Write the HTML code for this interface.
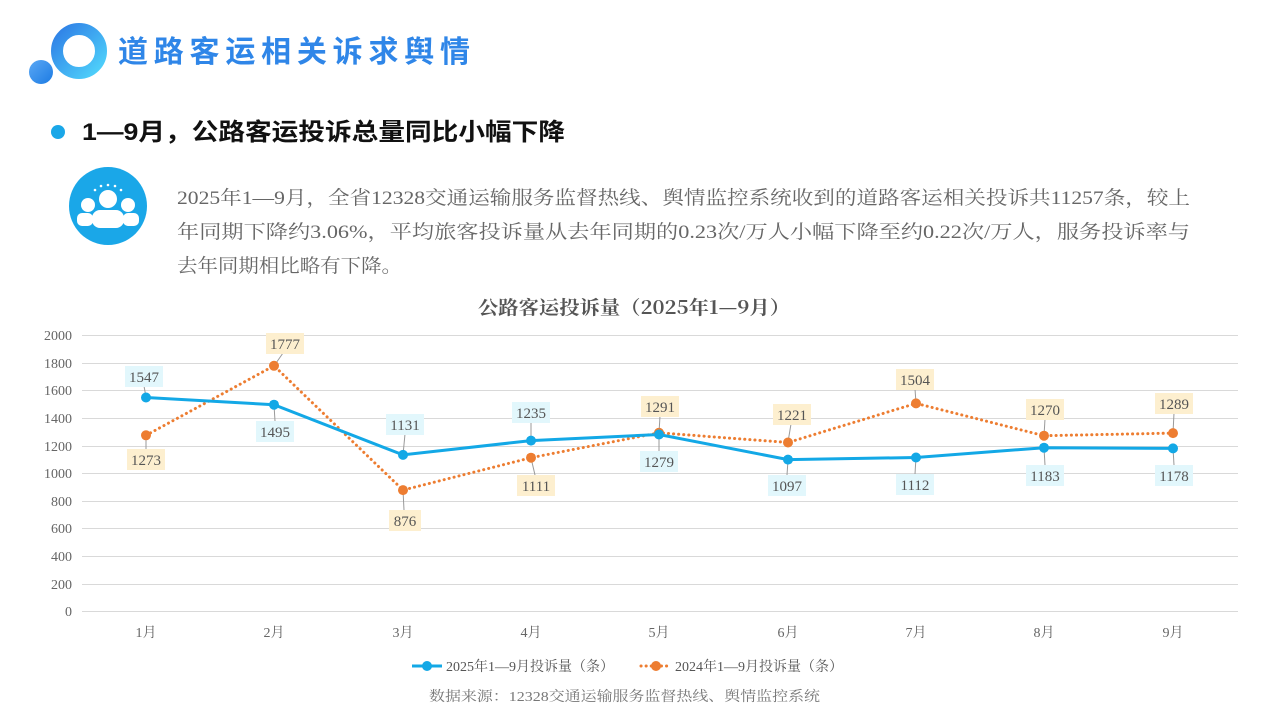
<!DOCTYPE html>
<html><head><meta charset="utf-8"><style>
body{margin:0;width:1280px;height:720px;background:#fff;overflow:hidden;position:relative;font-family:"Liberation Sans","Noto Sans CJK SC",sans-serif}
</style></head><body>
<svg width="1280" height="720" style="position:absolute;left:0;top:0">
<defs>
<linearGradient id="g1" x1="0" y1="0" x2="1" y2="1"><stop offset="0" stop-color="#2f7fe6"/><stop offset="1" stop-color="#4fd3fb"/></linearGradient>
<linearGradient id="g2" x1="0" y1="0" x2="1" y2="1"><stop offset="0" stop-color="#5aa8f5"/><stop offset="1" stop-color="#1c7be3"/></linearGradient>
</defs>
<circle cx="79" cy="51" r="22" fill="none" stroke="url(#g1)" stroke-width="12"/>
<circle cx="41" cy="72" r="12" fill="url(#g2)"/>
<text x="118" y="62" font-size="30" font-weight="bold" fill="#2f86e8" font-family="Noto Sans CJK SC,sans-serif" textLength="352" lengthAdjust="spacing">道路客运相关诉求舆情</text>
<circle cx="58" cy="132" r="7" fill="#1aa7e8"/>
<text x="82" y="140" font-size="24" font-weight="bold" fill="#111" font-family="Liberation Sans,Noto Sans CJK SC,sans-serif" textLength="483" lengthAdjust="spacingAndGlyphs">1—9月，公路客运投诉总量同比小幅下降</text>
<circle cx="108" cy="206" r="39" fill="#1aa7e8"/>
<g fill="#fff">
<circle cx="108" cy="199" r="9"/><rect x="92" y="210" width="32" height="18" rx="8"/>
<circle cx="88" cy="205" r="7"/><rect x="77" y="213" width="16" height="13" rx="5"/>
<circle cx="128" cy="205" r="7"/><rect x="123" y="213" width="16" height="13" rx="5"/>
<circle cx="95" cy="190" r="1.3"/><circle cx="101" cy="186" r="1.3"/><circle cx="108" cy="185" r="1.3"/><circle cx="115" cy="186" r="1.3"/><circle cx="121" cy="190" r="1.3"/>
</g>
<g font-family="Liberation Serif,Noto Serif CJK SC,serif" font-size="19" fill="#666">
<text x="177" y="204" textLength="1013" lengthAdjust="spacingAndGlyphs">2025年1—9月，全省12328交通运输服务监督热线、舆情监控系统收到的道路客运相关投诉共11257条，较上</text>
<text x="177" y="238" textLength="1013" lengthAdjust="spacingAndGlyphs">年同期下降约3.06%，平均旅客投诉量从去年同期的0.23次/万人小幅下降至约0.22次/万人，服务投诉率与</text>
<text x="177" y="272" textLength="225" lengthAdjust="spacingAndGlyphs">去年同期相比略有下降。</text>
</g>
<text x="478" y="314" font-size="19" font-weight="bold" fill="#555" font-family="Noto Serif CJK SC,serif" textLength="312" lengthAdjust="spacingAndGlyphs">公路客运投诉量（2025年1—9月）</text>
<g stroke="#d9d9d9" stroke-width="1">
<line x1="82" x2="1238" y1="335.5" y2="335.5"/><line x1="82" x2="1238" y1="363.5" y2="363.5"/><line x1="82" x2="1238" y1="390.5" y2="390.5"/><line x1="82" x2="1238" y1="418.5" y2="418.5"/><line x1="82" x2="1238" y1="446.5" y2="446.5"/><line x1="82" x2="1238" y1="473.5" y2="473.5"/><line x1="82" x2="1238" y1="501.5" y2="501.5"/><line x1="82" x2="1238" y1="528.5" y2="528.5"/><line x1="82" x2="1238" y1="556.5" y2="556.5"/><line x1="82" x2="1238" y1="584.5" y2="584.5"/><line x1="82" x2="1238" y1="611.5" y2="611.5"/>
</g>
<g font-family="Liberation Serif,serif" font-size="14" fill="#666" text-anchor="end">
<text x="72" y="340">2000</text><text x="72" y="368">1800</text><text x="72" y="395">1600</text><text x="72" y="423">1400</text><text x="72" y="451">1200</text><text x="72" y="478">1000</text><text x="72" y="506">800</text><text x="72" y="533">600</text><text x="72" y="561">400</text><text x="72" y="589">200</text><text x="72" y="616">0</text>
</g>
<g font-family="Liberation Serif,Noto Serif CJK SC,serif" font-size="14" fill="#666" text-anchor="middle">
<text x="146" y="637">1月</text><text x="274" y="637">2月</text><text x="403" y="637">3月</text><text x="531" y="637">4月</text><text x="659" y="637">5月</text><text x="788" y="637">6月</text><text x="916" y="637">7月</text><text x="1044" y="637">8月</text><text x="1173" y="637">9月</text>
</g>
<g stroke="#999" stroke-width="1">
<line x1="146" y1="397" x2="144" y2="386"/><line x1="274" y1="405" x2="275" y2="421"/><line x1="403" y1="455" x2="405" y2="434"/><line x1="531" y1="441" x2="531" y2="422"/><line x1="659" y1="434" x2="659" y2="451"/><line x1="788" y1="460" x2="787" y2="475"/><line x1="916" y1="457" x2="915" y2="474"/><line x1="1044" y1="448" x2="1045" y2="465"/><line x1="1173" y1="448" x2="1174" y2="465"/>
<line x1="146" y1="435" x2="146" y2="449"/><line x1="274" y1="366" x2="283" y2="353"/><line x1="403" y1="490" x2="404" y2="510"/><line x1="531" y1="458" x2="535" y2="475"/><line x1="659" y1="433" x2="660" y2="416"/><line x1="788" y1="442" x2="791" y2="424"/><line x1="916" y1="403" x2="915" y2="389"/><line x1="1044" y1="436" x2="1045" y2="419"/><line x1="1173" y1="433" x2="1174" y2="413"/>
</g>
<polyline fill="none" stroke="#ed7d31" stroke-width="3" stroke-dasharray="0.1 5" stroke-linecap="round" points="146,435.3 274,365.8 403,490.1 531,457.7 659,432.8 788,442.5 916,403.4 1044,435.7 1173,433.1"/>
<polyline fill="none" stroke="#13a8e6" stroke-width="3" points="146,397.5 274,404.7 403,454.9 531,440.6 659,434.5 788,459.6 916,457.5 1044,447.7 1173,448.4"/>
<g fill="#ed7d31"><circle cx="146" cy="435.3" r="5"/><circle cx="274" cy="365.8" r="5"/><circle cx="403" cy="490.1" r="5"/><circle cx="531" cy="457.7" r="5"/><circle cx="659" cy="432.8" r="5"/><circle cx="788" cy="442.5" r="5"/><circle cx="916" cy="403.4" r="5"/><circle cx="1044" cy="435.7" r="5"/><circle cx="1173" cy="433.1" r="5"/></g>
<g fill="#13a8e6"><circle cx="146" cy="397.5" r="5"/><circle cx="274" cy="404.7" r="5"/><circle cx="403" cy="454.9" r="5"/><circle cx="531" cy="440.6" r="5"/><circle cx="659" cy="434.5" r="5"/><circle cx="788" cy="459.6" r="5"/><circle cx="916" cy="457.5" r="5"/><circle cx="1044" cy="447.7" r="5"/><circle cx="1173" cy="448.4" r="5"/></g>
<g fill="#e2f7fc"><rect x="125" y="366" width="38" height="21"/><rect x="256" y="421" width="38" height="21"/><rect x="386" y="414" width="38" height="21"/><rect x="512" y="402" width="38" height="21"/><rect x="640" y="451" width="38" height="21"/><rect x="768" y="475" width="38" height="21"/><rect x="896" y="474" width="38" height="21"/><rect x="1026" y="465" width="38" height="21"/><rect x="1155" y="465" width="38" height="21"/></g>
<g fill="#fdefcf"><rect x="127" y="449" width="38" height="21"/><rect x="266" y="333" width="38" height="21"/><rect x="389" y="510" width="32" height="21"/><rect x="517" y="475" width="38" height="21"/><rect x="641" y="396" width="38" height="21"/><rect x="773" y="404" width="38" height="21"/><rect x="896" y="369" width="38" height="21"/><rect x="1026" y="399" width="38" height="21"/><rect x="1155" y="393" width="38" height="21"/></g>
<g font-family="Liberation Serif,serif" font-size="15" fill="#555" text-anchor="middle">
<text x="144" y="382">1547</text><text x="275" y="437">1495</text><text x="405" y="430">1131</text><text x="531" y="418">1235</text><text x="659" y="467">1279</text><text x="787" y="491">1097</text><text x="915" y="490">1112</text><text x="1045" y="481">1183</text><text x="1174" y="481">1178</text>
<text x="146" y="465">1273</text><text x="285" y="349">1777</text><text x="405" y="526">876</text><text x="536" y="491">1111</text><text x="660" y="412">1291</text><text x="792" y="420">1221</text><text x="915" y="385">1504</text><text x="1045" y="415">1270</text><text x="1174" y="409">1289</text>
</g>
<line x1="412" y1="666" x2="442" y2="666" stroke="#13a8e6" stroke-width="3"/><circle cx="427" cy="666" r="5" fill="#13a8e6"/>
<line x1="641" y1="666" x2="671" y2="666" stroke="#ed7d31" stroke-width="3" stroke-dasharray="0.1 5" stroke-linecap="round"/><circle cx="656" cy="666" r="5" fill="#ed7d31"/>
<g font-family="Liberation Serif,Noto Serif CJK SC,serif" font-size="14" fill="#555">
<text x="446" y="671">2025年1—9月投诉量（条）</text><text x="675" y="671">2024年1—9月投诉量（条）</text>
<text x="429" y="701" fill="#777" textLength="391" lengthAdjust="spacingAndGlyphs">数据来源：12328交通运输服务监督热线、舆情监控系统</text>
</g>
</svg>
</body></html>
